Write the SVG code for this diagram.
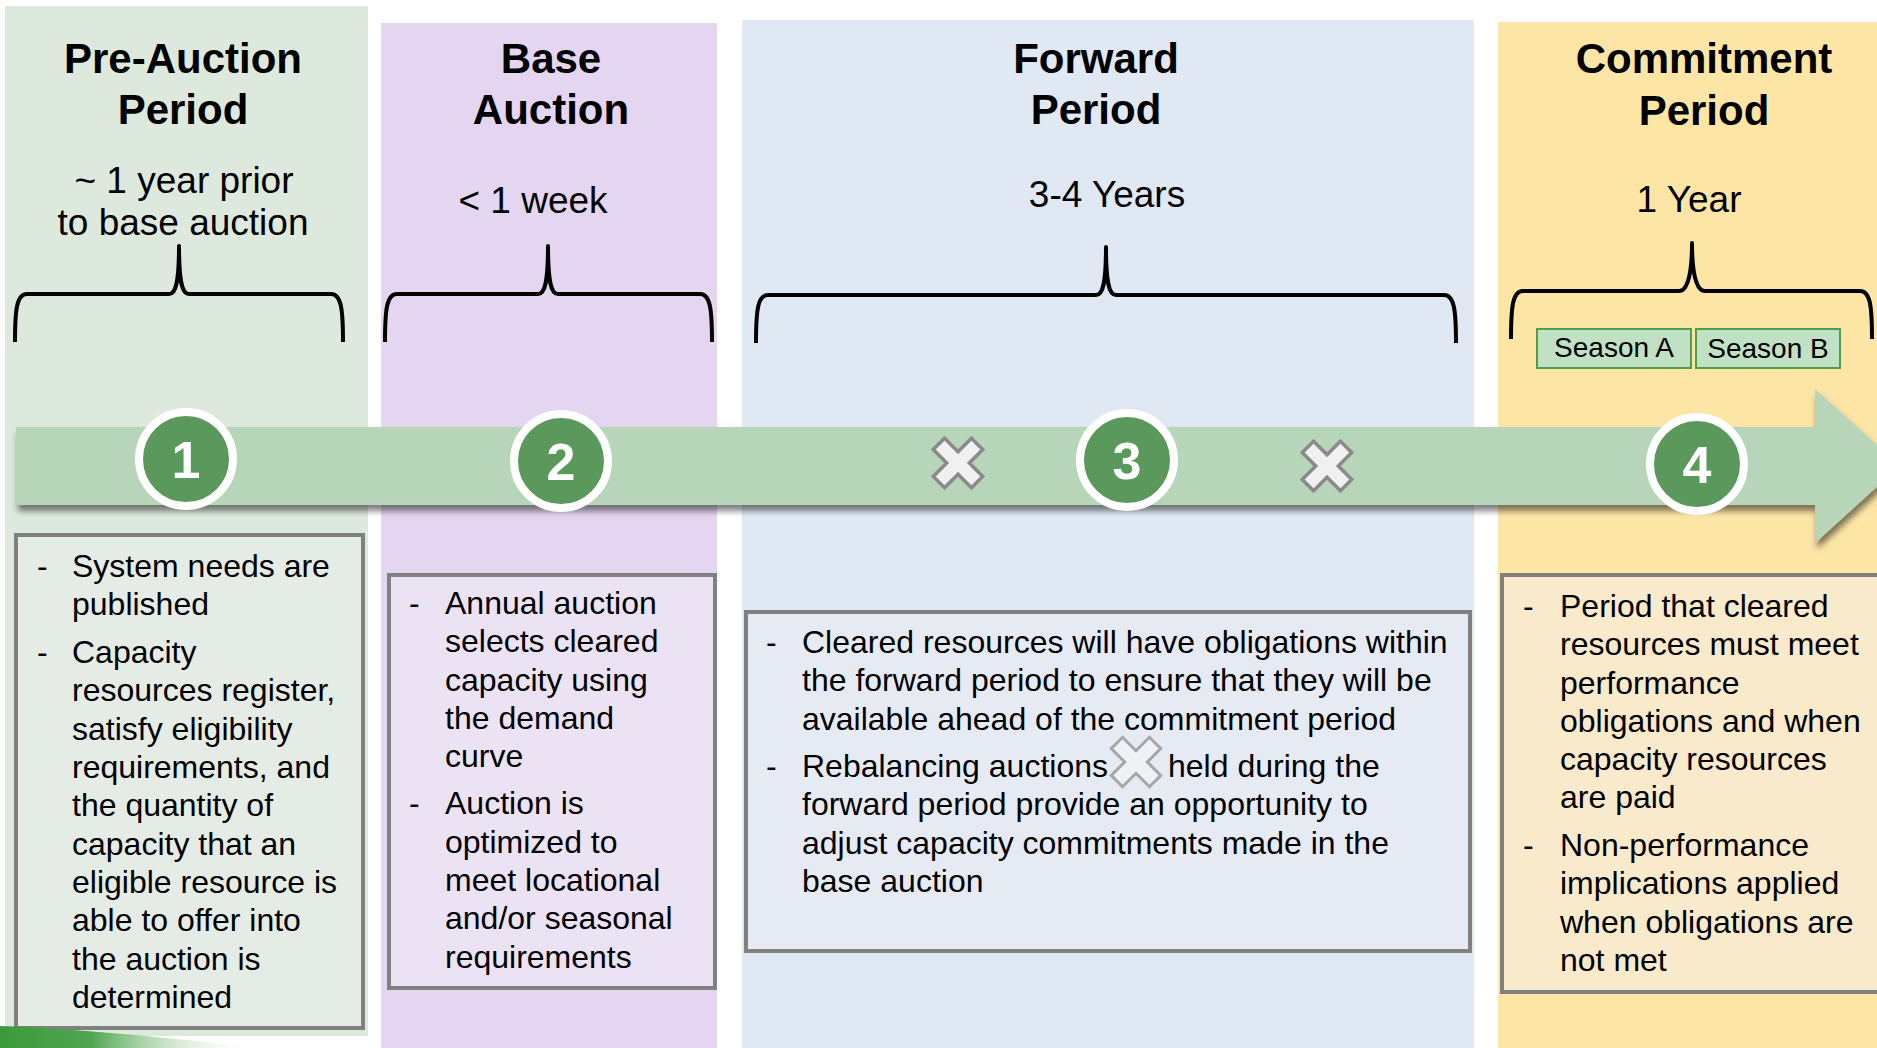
<svg xmlns="http://www.w3.org/2000/svg" width="1877" height="1048" viewBox="0 0 1877 1048">
<defs>
<style>
.title{font-family:"Liberation Sans",Arial,sans-serif;font-weight:bold;font-size:42px;fill:#000;text-anchor:middle}
.sub{font-family:"Liberation Sans",Arial,sans-serif;font-size:37px;fill:#000;text-anchor:middle}
.body{font-family:"Liberation Sans",Arial,sans-serif;font-size:32px;fill:#000}
.season{font-family:"Liberation Sans",Arial,sans-serif;font-size:28px;fill:#000;text-anchor:middle}
.num{font-family:"Liberation Sans",Arial,sans-serif;font-weight:bold;font-size:52px;fill:#fff;text-anchor:middle}
.brace{fill:none;stroke:#000;stroke-width:4;stroke-linejoin:round}
.box{stroke:#808080;stroke-width:4}
.ring{fill:#5b985c;stroke:#fff;stroke-width:8}
.xmark{fill:#f0f0f0;stroke:#8a8a8a;stroke-width:3.5;stroke-linejoin:miter}
.seasonbox{fill:#c1e1c5;stroke:#4e9e52;stroke-width:2}
</style>
<filter id="shadow" x="-5%" y="-20%" width="110%" height="150%">
<feDropShadow dx="2" dy="6" stdDeviation="3" flood-color="#000" flood-opacity="0.5"/>
</filter>
<linearGradient id="swoosh" x1="0" y1="0" x2="1" y2="0">
<stop offset="0" stop-color="#3c9a3c"/>
<stop offset="0.35" stop-color="#4fa54f"/>
<stop offset="1" stop-color="#ffffff" stop-opacity="0"/>
</linearGradient>
<path id="xshape" d="M-8,-27 L8,-27 L8,-8 L27,-8 L27,8 L8,8 L8,27 L-8,27 L-8,8 L-27,8 L-27,-8 L-8,-8 Z" transform="rotate(45)"/>
</defs>

<rect x="0" y="0" width="1877" height="1048" fill="#fff"/>

<g id="pre-auction">
<rect x="5" y="6" width="363" height="1030" fill="#dde9dd"/>
<text class="title" x="183" y="73">Pre-Auction</text>
<text class="title" x="183" y="124">Period</text>
<text class="sub" x="184" y="193">~ 1 year prior</text>
<text class="sub" x="183" y="235">to base auction</text>
<path class="brace" d="M15,342 C15,308 17,294 27,294 L169,294 C176,294 179,282 179,246 C179,282 182,294 189,294 L331,294 C341,294 343,308 343,342"/>
<rect class="box" x="16" y="535" width="347" height="493" fill="#e5ebe5"/>
<text class="body" x="37" y="577">-</text>
<text class="body" x="72" y="577">System needs are</text>
<text class="body" x="72" y="615">published</text>
<text class="body" x="37" y="663">-</text>
<text class="body" x="72" y="663">Capacity</text>
<text class="body" x="72" y="701">resources register,</text>
<text class="body" x="72" y="740">satisfy eligibility</text>
<text class="body" x="72" y="778">requirements, and</text>
<text class="body" x="72" y="816">the quantity of</text>
<text class="body" x="72" y="855">capacity that an</text>
<text class="body" x="72" y="893">eligible resource is</text>
<text class="body" x="72" y="931">able to offer into</text>
<text class="body" x="72" y="970">the auction is</text>
<text class="body" x="72" y="1008">determined</text>
</g>

<g id="base-auction">
<rect x="381" y="23" width="336" height="1025" fill="#e4d5f0"/>
<text class="title" x="551" y="73">Base</text>
<text class="title" x="551" y="124">Auction</text>
<text class="sub" x="533" y="213">&lt; 1 week</text>
<path class="brace" d="M385,342 C385,308 387,294 397,294 L538,294 C545,294 548,282 548,246 C548,282 551,294 558,294 L700,294 C710,294 712,308 712,342"/>
<rect class="box" x="389" y="575" width="326" height="413" fill="#ebe2f4"/>
<text class="body" x="409" y="614">-</text>
<text class="body" x="445" y="614">Annual auction</text>
<text class="body" x="445" y="652">selects cleared</text>
<text class="body" x="445" y="691">capacity using</text>
<text class="body" x="445" y="729">the demand</text>
<text class="body" x="445" y="767">curve</text>
<text class="body" x="409" y="814">-</text>
<text class="body" x="445" y="814">Auction is</text>
<text class="body" x="445" y="853">optimized to</text>
<text class="body" x="445" y="891">meet locational</text>
<text class="body" x="445" y="929">and/or seasonal</text>
<text class="body" x="445" y="968">requirements</text>
</g>

<g id="forward-period">
<rect x="742" y="20" width="732" height="1028" fill="#dfe8f3"/>
<text class="title" x="1096" y="73">Forward</text>
<text class="title" x="1096" y="124">Period</text>
<text class="sub" x="1107" y="207">3-4 Years</text>
<path class="brace" d="M756,343 C756,309 758,295 768,295 L1096,295 C1103,295 1106,283 1106,247 C1106,283 1109,295 1116,295 L1444,295 C1454,295 1456,309 1456,343"/>
<rect class="box" x="746" y="612" width="724" height="339" fill="#e6ebf3"/>
<text class="body" x="766" y="653">-</text>
<text class="body" x="802" y="653">Cleared resources will have obligations within</text>
<text class="body" x="802" y="691">the forward period to ensure that they will be</text>
<text class="body" x="802" y="730">available ahead of the commitment period</text>
<text class="body" x="766" y="777">-</text>
<text class="body" x="802" y="777">Rebalancing auctions</text>
<text class="body" x="1168" y="777">held during the</text>
<text class="body" x="802" y="815">forward period provide an opportunity to</text>
<text class="body" x="802" y="854">adjust capacity commitments made in the</text>
<text class="body" x="802" y="892">base auction</text>
<use href="#xshape" x="1136" y="762" fill="#eef1f6" stroke="#a6a6a6" stroke-width="3"/>
</g>

<g id="commitment-period">
<rect x="1498" y="22" width="379" height="1026" fill="#fde5a6"/>
<text class="title" x="1704" y="73">Commitment</text>
<text class="title" x="1704" y="125">Period</text>
<text class="sub" x="1689" y="212">1 Year</text>
<path class="brace" d="M1511,339 C1511,305 1513,291 1523,291 L1679,291 C1686,291 1692,279 1692,243 C1692,279 1698,291 1705,291 L1860,291 C1870,291 1872,305 1872,339"/>
<rect class="seasonbox" x="1537" y="329" width="154" height="39"/>
<text class="season" x="1614" y="357">Season A</text>
<rect class="seasonbox" x="1696" y="329" width="144" height="39"/>
<text class="season" x="1768" y="358">Season B</text>
<rect class="box" x="1502" y="575" width="400" height="417" fill="#f8eacb"/>
<text class="body" x="1523" y="617">-</text>
<text class="body" x="1560" y="617">Period that cleared</text>
<text class="body" x="1560" y="655">resources must meet</text>
<text class="body" x="1560" y="694">performance</text>
<text class="body" x="1560" y="732">obligations and when</text>
<text class="body" x="1560" y="770">capacity resources</text>
<text class="body" x="1560" y="808">are paid</text>
<text class="body" x="1523" y="856">-</text>
<text class="body" x="1560" y="856">Non-performance</text>
<text class="body" x="1560" y="894">implications applied</text>
<text class="body" x="1560" y="933">when obligations are</text>
<text class="body" x="1560" y="971">not met</text>
</g>

<g id="swoosh-corner">
<path d="M0,1026 L30,1027 Q140,1034 260,1048 L0,1048 Z" fill="url(#swoosh)"/>
</g>

<g id="connectors">
<path id="timeline-arrow" d="M16,427 H1815 V389 L1900,466 L1815,543 V505 H16 Z" fill="#b7d5b9" filter="url(#shadow)"/>
</g>

<g id="rebalancing-marks">
<use href="#xshape" x="958" y="463" class="xmark"/>
<use href="#xshape" x="1327" y="466" class="xmark"/>
</g>

<g id="step-1">
<circle class="ring" cx="186" cy="459" r="47"/>
<text class="num" x="186" y="478">1</text>
</g>
<g id="step-2">
<circle class="ring" cx="561" cy="461" r="47"/>
<text class="num" x="561" y="480">2</text>
</g>
<g id="step-3">
<circle class="ring" cx="1127" cy="460" r="47"/>
<text class="num" x="1127" y="479">3</text>
</g>
<g id="step-4">
<circle class="ring" cx="1697" cy="464" r="47"/>
<text class="num" x="1697" y="483">4</text>
</g>
</svg>
